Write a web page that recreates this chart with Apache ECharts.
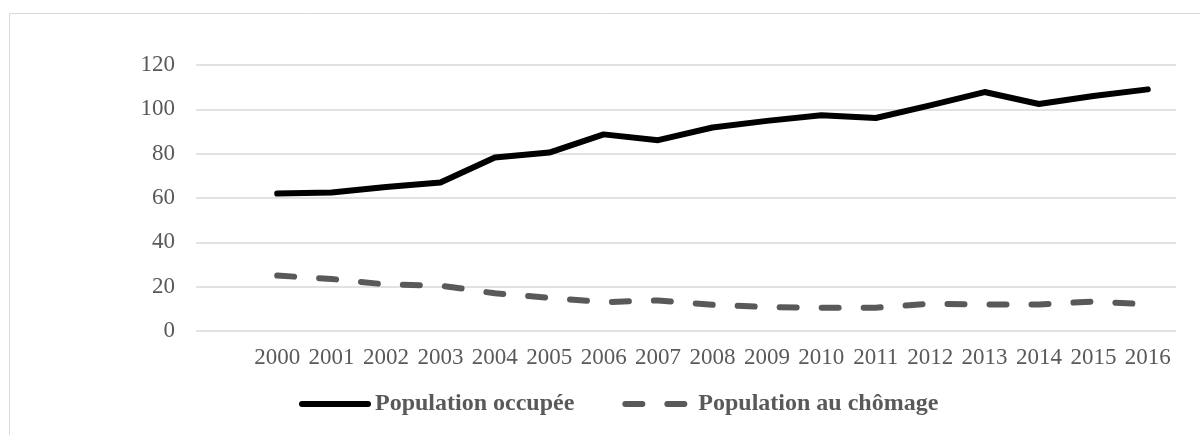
<!DOCTYPE html>
<html><head><meta charset="utf-8">
<script src="https://cdn.jsdelivr.net/npm/echarts@6/dist/echarts.min.js"></script>
<style>html,body{margin:0;padding:0;background:#fff}#c{width:1200px;height:435px}</style>
</head><body><div id="c"></div>
<script>
const years = ['2000','2001','2002','2003','2004','2005','2006','2007','2008','2009','2010','2011','2012','2013','2014','2015','2016'];
const occupee = [62, 62.5, 65, 67, 78.3, 80.5, 88.7, 86.1, 91.8, 94.8, 97.3, 96.1, 101.8, 107.8, 102.4, 106, 109];
const chomage = [25, 23.5, 21, 20.5, 17, 15, 13, 13.8, 11.8, 10.8, 10.5, 10.5, 12.3, 12, 12, 13.3, 12];
const yTicks = [0, 20, 40, 60, 80, 100, 120];
const names = ['Population occupée', 'Population au chômage'];

const FONT = '"Liberation Serif", "Times New Roman", serif';
const chart = echarts.init(document.getElementById('c'), null, {renderer: 'canvas'});
chart.setOption({
  animation: false,
  backgroundColor: '#fff',
  graphic: [{type: 'rect', shape: {x: 9.5, y: 13.5, width: 1300, height: 600}, style: {fill: 'none', stroke: '#d9d9d9', lineWidth: 1}, silent: true, z: -10}],
  grid: [
    {left: 196, right: 24, top: 65, bottom: 104},
    {left: 250, right: 25, top: 65, bottom: 104}
  ],
  xAxis: [
    {gridIndex: 0, type: 'category', data: years, show: false},
    {gridIndex: 1, type: 'category', data: years, boundaryGap: true,
     axisLine: {show: false}, axisTick: {show: false},
     axisLabel: {color: '#595959', fontFamily: FONT, fontSize: 23, margin: 15, interval: 0}}
  ],
  yAxis: [
    {gridIndex: 0, type: 'value', min: yTicks[0], max: yTicks[yTicks.length - 1], interval: 20,
     axisLine: {show: false}, axisTick: {show: false},
     axisLabel: {color: '#595959', fontFamily: FONT, fontSize: 23, margin: 21},
     splitLine: {lineStyle: {color: '#d9d9d9', width: 1.5}}},
    {gridIndex: 1, type: 'value', min: yTicks[0], max: yTicks[yTicks.length - 1], interval: 20, show: false, splitLine: {show: false}}
  ],
  legend: {
    top: 387, left: 294, itemWidth: 66, itemHeight: 24, itemGap: 48,
    textStyle: {color: '#595959', fontFamily: FONT, fontSize: 24, fontWeight: 'bold', padding: [0, 0, 0, 2]},
    itemStyle: {opacity: 0},
    lineStyle: {width: 6, cap: 'round'},
    data: names
  },
  series: [
    {name: names[0], type: 'line', xAxisIndex: 1, yAxisIndex: 1, data: occupee, symbol: 'none',
     lineStyle: {color: '#000', width: 6, cap: 'round', join: 'round'}, itemStyle: {color: '#000'}},
    {name: names[1], type: 'line', xAxisIndex: 1, yAxisIndex: 1, data: chomage, symbol: 'none',
     lineStyle: {color: '#595959', width: 6, type: [17, 25], cap: 'round', join: 'round'}, itemStyle: {color: '#595959'}}
  ]
});
</script></body></html>
